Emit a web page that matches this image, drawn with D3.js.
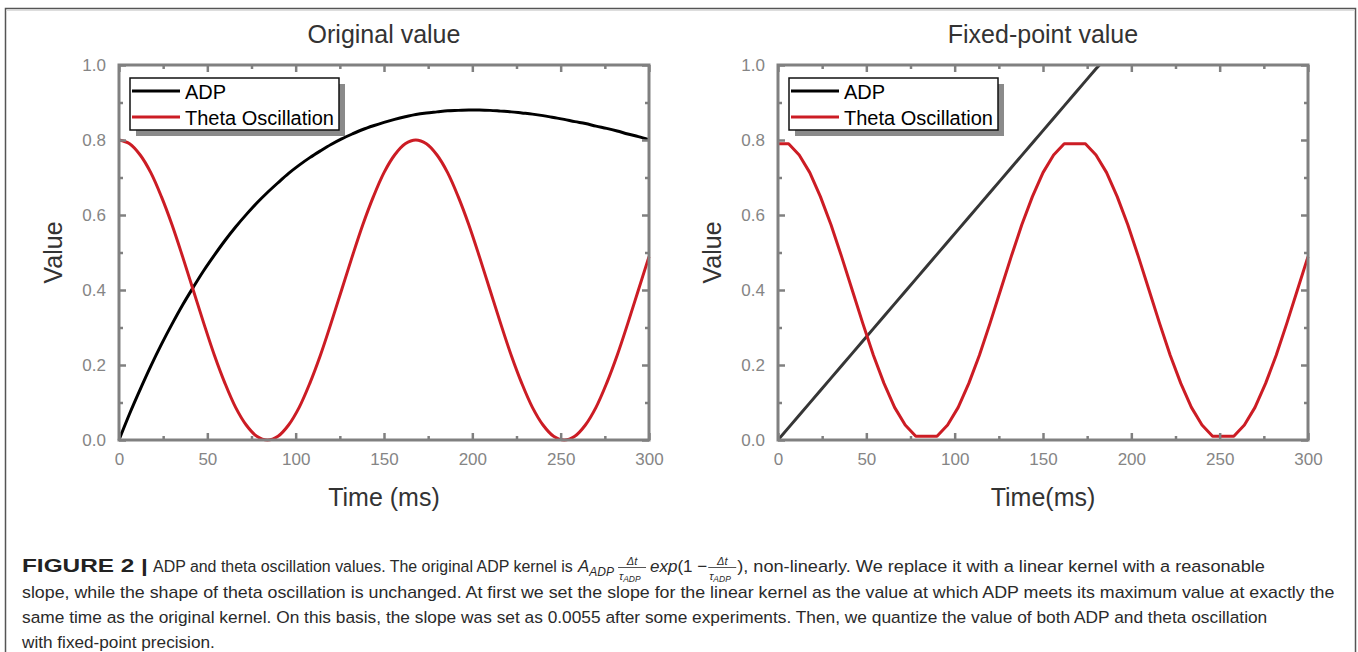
<!DOCTYPE html>
<html>
<head>
<meta charset="utf-8">
<script src="https://cdn.jsdelivr.net/npm/d3@7"></script>
<style>
  body { margin: 0; background: #fff; }
  svg { display: block; }
</style>
</head>
<body>
<div class="canvas"></div>
<script>
// time axis (ms), sampled every 6 ms
const times = [0,6,12,18,24,30,36,42,48,54,60,66,72,78,84,90,96,102,108,114,120,126,132,138,144,150,
  156,162,168,174,180,186,192,198,204,210,216,222,228,234,240,246,252,258,264,270,276,282,288,294,300]

// left panel: original values
const adpOriginal = [0,.070,.135,.197,.255,.309,.360,.407,.452,.493,.532,.568,.601,.632,.660,.686,.711,.733,
  .753,.771,.788,.803,.816,.828,.838,.847,.855,.862,.868,.872,.875,.878,.879,.880,.880,.879,.877,.875,.872,
  .869,.865,.860,.855,.849,.844,.837,.831,.824,.816,.809,.801]
const thetaOriginal = [.800,.790,.760,.713,.649,.574,.489,.400,.311,.226,.151,.087,.040,.010,.000,.010,.040,
  .087,.151,.226,.311,.400,.489,.574,.649,.713,.760,.790,.800,.790,.760,.713,.649,.574,.489,.400,.311,.226,
  .151,.087,.040,.010,.000,.010,.040,.087,.151,.226,.311,.400,.489]

// right panel: fixed-point values
const adpFixedTimes = [0,6,12,18,24,30,36,42,48,54,60,66,72,78,84,90,96,102,108,114,120,126,132,138,144,150,
  156,162,168,174,180,182]
const adpFixed = [0,.033,.066,.099,.132,.165,.198,.231,.264,.297,.330,.363,.396,.429,.462,.495,.528,.561,.594,
  .627,.660,.693,.726,.759,.792,.825,.858,.891,.924,.957,.990,1.000]
const thetaFixed = [.790,.790,.760,.713,.649,.574,.489,.400,.311,.226,.151,.087,.040,.010,.010,.010,.040,.087,
  .151,.226,.311,.400,.489,.574,.649,.713,.760,.790,.790,.790,.760,.713,.649,.574,.489,.400,.311,.226,.151,
  .087,.040,.010,.010,.010,.040,.087,.151,.226,.311,.400,.489]

const seriesNames = ["ADP", "Theta Oscillation"]
const xTicks = [0,50,100,150,200,250,300]
const xMinor = [25,75,125,175,225,275]
const yTicks = [0,0.2,0.4,0.6,0.8,1.0]
const yMinor = [0.1,0.3,0.5,0.7,0.9]

const font = "'Liberation Sans', Arial, sans-serif"
const axisGrey = "#808080"
const red = "#cc1c24"

const svg = d3.select(".canvas")
    .append("svg")
    .attr("width", 1358)
    .attr("height", 652)
    .style("font-family", font)

// figure frame
svg.append("path")
    .attr("d", "M5.5,660V8.5H1355.5V660")
    .attr("fill", "none")
    .attr("stroke", "#555")
    .attr("stroke-width", 1.5)
svg.append("line")
    .attr("x1", 6).attr("x2", 1355).attr("y1", 10.5).attr("y2", 10.5)
    .attr("stroke", "#ddd").attr("stroke-width", 1)

function drawPanel(left, right, title, xLabel, series) {
    const top = 65, bottom = 440
    const x = d3.scaleLinear().domain([0, 300]).range([left, right])
    const y = d3.scaleLinear().domain([0, 1]).range([bottom, top])
    const cx = (left + right) / 2
    const g = svg.append("g")

    // curves
    series.forEach(s => {
        const line = d3.line()
            .x(d => x(d[0]))
            .y(d => y(d[1]))
            .curve(s.curve)
        g.append("path")
            .datum(d3.zip(s.xs, s.ys))
            .attr("d", line)
            .attr("fill", "none")
            .attr("stroke", s.color)
            .attr("stroke-width", 3)
            .attr("stroke-linejoin", "round")
    })

    // ticks on all four sides, pointing inward
    const addAxis = (axis, tr, vals, size, fmt) => {
        g.append("g")
            .attr("transform", tr)
            .call(axis.tickValues(vals).tickSizeInner(-size).tickSizeOuter(0)
                .tickPadding(13).tickFormat(fmt || (() => "")))
            .call(sel => {
                sel.select(".domain").remove()
                sel.attr("font-family", font).attr("font-size", 17)
                sel.selectAll("line").attr("stroke", axisGrey).attr("stroke-width", 2.5)
                sel.selectAll("text").attr("fill", "#858585")
                if (!fmt) sel.selectAll("text").remove()
            })
    }
    addAxis(d3.axisBottom(x), `translate(0,${bottom})`, xTicks, 7, d3.format("d"))
    addAxis(d3.axisBottom(x), `translate(0,${bottom})`, xMinor, 4)
    addAxis(d3.axisTop(x), `translate(0,${top})`, xTicks, 7)
    addAxis(d3.axisTop(x), `translate(0,${top})`, xMinor, 4)
    addAxis(d3.axisLeft(y), `translate(${left},0)`, yTicks, 7, d3.format(".1f"))
    addAxis(d3.axisLeft(y), `translate(${left},0)`, yMinor, 4)
    addAxis(d3.axisRight(y), `translate(${right},0)`, yTicks, 7)
    addAxis(d3.axisRight(y), `translate(${right},0)`, yMinor, 4)

    // plot frame
    g.append("rect")
        .attr("x", left).attr("y", top)
        .attr("width", right - left).attr("height", bottom - top)
        .attr("fill", "none")
        .attr("stroke", axisGrey)
        .attr("stroke-width", 3)

    // titles
    g.append("text")
        .attr("x", cx).attr("y", 43)
        .attr("text-anchor", "middle")
        .attr("font-size", 25)
        .attr("fill", "#333")
        .text(title)
    g.append("text")
        .attr("x", cx).attr("y", 506)
        .attr("text-anchor", "middle")
        .attr("font-size", 25)
        .attr("fill", "#333")
        .text(xLabel)
    g.append("text")
        .attr("transform", `translate(${left - 57},${(top + bottom) / 2}) rotate(-90)`)
        .attr("text-anchor", "middle")
        .attr("font-size", 25)
        .attr("fill", "#333")
        .text("Value")

    // legend with drop shadow
    const lg = g.append("g").attr("transform", `translate(${left + 11},78)`)
    lg.append("rect")
        .attr("x", 6).attr("y", 6).attr("width", 209).attr("height", 52)
        .attr("fill", "#8a8a8a")
    lg.append("rect")
        .attr("width", 209).attr("height", 52)
        .attr("fill", "#fff")
        .attr("stroke", "#111")
        .attr("stroke-width", 1.5)
    seriesNames.forEach((name, i) => {
        lg.append("line")
            .attr("x1", 2).attr("x2", 50)
            .attr("y1", 13 + i * 26).attr("y2", 13 + i * 26)
            .attr("stroke", i === 0 ? "#000" : red)
            .attr("stroke-width", 3)
        lg.append("text")
            .attr("x", 55).attr("y", 20.5 + i * 26)
            .attr("font-size", 20)
            .attr("fill", "#000")
            .text(name)
    })
}

drawPanel(119, 649, "Original value", "Time (ms)", [
    { xs: times, ys: adpOriginal, color: "#000", curve: d3.curveCatmullRom },
    { xs: times, ys: thetaOriginal, color: red, curve: d3.curveCatmullRom }
])
drawPanel(778, 1308, "Fixed-point value", "Time(ms)", [
    { xs: adpFixedTimes, ys: adpFixed, color: "#363636", curve: d3.curveLinear },
    { xs: times, ys: thetaFixed, color: red, curve: d3.curveLinear }
])

// caption
const cap = svg.append("g").attr("font-size", 17).attr("fill", "#2a2a2a")
const base = [572, 597.5, 623, 648]

// one run of caption text, squeezed horizontally to a target width when given
function run(str, x, y, opts = {}) {
    const t = cap.append("text").text(str)
    if (opts.bold) t.attr("font-weight", "bold").attr("fill", "#222").attr("font-size", 18)
    if (opts.italic) t.attr("font-style", "italic")
    const w = t.node().getComputedTextLength()
    const s = opts.width ? opts.width / w : 1
    t.attr("transform", `translate(${x},${y}) scale(${s},1)`)
    return w * s
}
// small stacked fraction  Δt / τ_ADP
function frac(x, y) {
    const w = 28
    cap.append("text").attr("x", x + w / 2).attr("y", y - 7.5)
        .attr("text-anchor", "middle").attr("font-size", 11).attr("font-style", "italic").text("Δt")
    cap.append("line").attr("x1", x).attr("x2", x + w).attr("y1", y - 4.5).attr("y2", y - 4.5)
        .attr("stroke", "#2a2a2a").attr("stroke-width", 0.8)
    const d = cap.append("text").attr("x", x + 1).attr("y", y + 8).attr("font-size", 11)
        .attr("font-style", "italic")
    d.append("tspan").text("τ")
    d.append("tspan").attr("font-size", 8.5).attr("dy", 1.5).text("ADP")
    return w
}

run("FIGURE 2 |", 22, base[0], { bold: true, width: 126 })
run("ADP and theta oscillation values. The original ADP kernel is", 153, base[0], { width: 420 })
let mx = 578
const aTerm = cap.append("text").attr("x", mx).attr("y", base[0]).attr("font-style", "italic")
aTerm.append("tspan").text("A")
aTerm.append("tspan").attr("font-size", 12).attr("dy", 4).text("ADP")
mx += aTerm.node().getComputedTextLength()
mx += frac(mx + 4, base[0]) + 8
mx += run("exp", mx, base[0], { italic: true })
mx += run("(1 − ", mx, base[0])
mx += frac(mx + 1, base[0]) + 2
run("), non-linearly. We replace it with a linear kernel with a reasonable", mx, base[0], { width: 1265 - mx })
run("slope, while the shape of theta oscillation is unchanged. At first we set the slope for the linear kernel as the value at which ADP meets its maximum value at exactly the",
    22, base[1], { width: 1313 })
run("same time as the original kernel. On this basis, the slope was set as 0.0055 after some experiments. Then, we quantize the value of both ADP and theta oscillation",
    22, base[2], { width: 1246 })
run("with fixed-point precision.", 22, base[3], { width: 193 })
</script>
</body>
</html>
